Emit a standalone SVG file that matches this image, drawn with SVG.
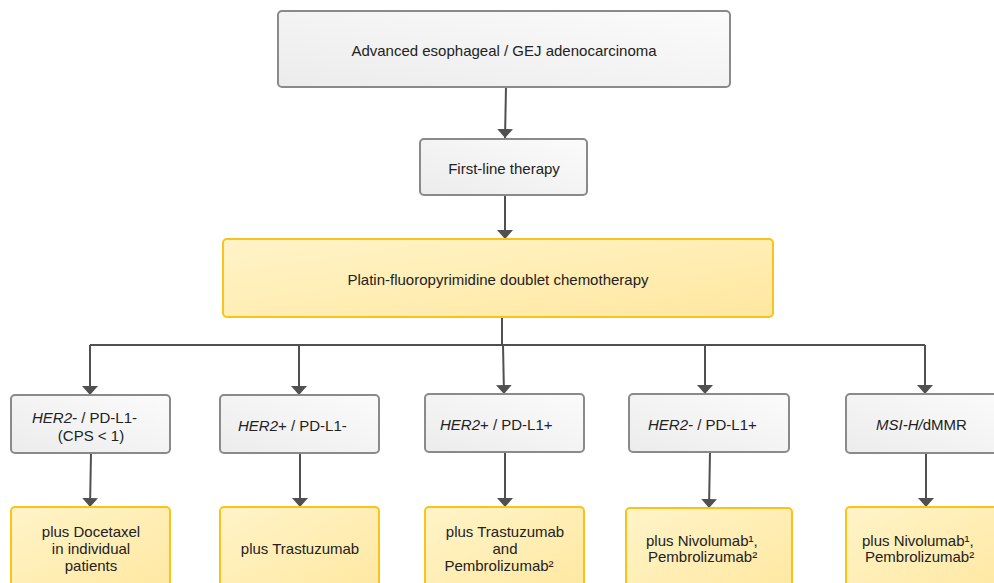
<svg xmlns="http://www.w3.org/2000/svg" width="994" height="583" viewBox="0 0 994 583">
<defs>
<linearGradient id="gG" x1="0" y1="1" x2="1" y2="0">
<stop offset="0" stop-color="#ececec"/><stop offset="1" stop-color="#fbfbfb"/>
</linearGradient>
<linearGradient id="gY" x1="0" y1="0" x2="1" y2="1">
<stop offset="0" stop-color="#fff4c8"/><stop offset="1" stop-color="#ffe7a0"/>
</linearGradient>
<marker id="ah" viewBox="0 0 9 16" refX="9" refY="8" markerWidth="9" markerHeight="16" markerUnits="userSpaceOnUse" orient="auto">
<path d="M0,0 L9,8 L0,16 Z" fill="#505050"/>
</marker>
</defs>
<style>
.g{fill:url(#gG);stroke:#8a8a8a;stroke-width:2}
.y{fill:url(#gY);stroke:#f8c31a;stroke-width:2}
.t{font-family:"Liberation Sans",Arial,sans-serif;font-size:15px;fill:#222}
.c{fill:none;stroke:#505050;stroke-width:2}
.ca{fill:none;stroke:#505050;stroke-width:2;marker-end:url(#ah)}
</style>
<rect width="994" height="583" fill="#ffffff"/>
<g id="connectors">
<path class="ca" d="M506,87 L505,138"/>
<path class="ca" d="M505,195 L505,239"/>
<path class="c" d="M502,317 L502,345"/>
<path class="c" d="M90,345 L925,345"/>
<path class="ca" d="M90,345 L90,395"/>
<path class="ca" d="M299,345 L299,395"/>
<path class="ca" d="M503,345 L504,394"/>
<path class="ca" d="M705,345 L705,394"/>
<path class="ca" d="M925,345 L925,394"/>
<path class="ca" d="M91,453 L90,507"/>
<path class="ca" d="M300,453 L300,507"/>
<path class="ca" d="M505,452 L505,507"/>
<path class="ca" d="M710,452 L709,508"/>
<path class="ca" d="M926,453 L926,507"/>
</g>
<g id="n_top"><rect class="g" x="278" y="11" width="452" height="76" rx="4"/>
<text class="t" x="504" y="56" text-anchor="middle">Advanced esophageal / GEJ adenocarcinoma</text></g>
<g id="n_first"><rect class="g" x="420" y="139" width="167" height="56" rx="4"/>
<text class="t" x="504" y="174" text-anchor="middle">First-line therapy</text></g>
<g id="n_chemo"><rect class="y" x="223" y="239" width="550" height="78" rx="4"/>
<text class="t" x="498" y="285" text-anchor="middle">Platin-fluoropyrimidine doublet chemotherapy</text></g>
<g id="n_a1"><rect class="g" x="11" y="395" width="159" height="58" rx="4"/>
<text class="t" x="32" y="423"><tspan font-style="italic">HER2-</tspan> / PD-L1-</text>
<text class="t" x="91" y="441" text-anchor="middle">(CPS &lt; 1)</text></g>
<g id="n_a2"><rect class="g" x="220" y="395" width="159" height="58" rx="4"/>
<text class="t" x="238" y="431"><tspan font-style="italic">HER2</tspan>+ / PD-L1-</text></g>
<g id="n_a3"><rect class="g" x="425" y="394" width="159" height="58" rx="4"/>
<text class="t" x="440" y="430"><tspan font-style="italic">HER2</tspan>+ / PD-L1+</text></g>
<g id="n_a4"><rect class="g" x="629" y="394" width="160" height="58" rx="4"/>
<text class="t" x="648" y="430"><tspan font-style="italic">HER2-</tspan> / PD-L1+</text></g>
<g id="n_a5"><rect class="g" x="846" y="394" width="160" height="59" rx="4"/>
<text class="t" x="876" y="430"><tspan font-style="italic">MSI-H/</tspan>dMMR</text></g>
<g id="n_b1"><rect class="y" x="11" y="507" width="159" height="90" rx="4"/>
<text class="t" text-anchor="middle"><tspan x="91" y="537">plus Docetaxel</tspan><tspan x="91" y="554">in individual</tspan><tspan x="91" y="571">patients</tspan></text></g>
<g id="n_b2"><rect class="y" x="220" y="507" width="159" height="90" rx="4"/>
<text class="t" x="300" y="554" text-anchor="middle">plus Trastuzumab</text></g>
<g id="n_b3"><rect class="y" x="425" y="507" width="159" height="90" rx="4"/>
<text class="t" text-anchor="middle"><tspan x="505" y="537">plus Trastuzumab</tspan><tspan x="505" y="554">and</tspan><tspan x="499" y="571">Pembrolizumab²</tspan></text></g>
<g id="n_b4"><rect class="y" x="626" y="508" width="166" height="90" rx="4"/>
<text class="t"><tspan x="646" y="546">plus Nivolumab¹,</tspan><tspan x="648" y="562">Pembrolizumab²</tspan></text></g>
<g id="n_b5"><rect class="y" x="846" y="507" width="160" height="90" rx="4"/>
<text class="t"><tspan x="862" y="546">plus Nivolumab¹,</tspan><tspan x="865" y="562">Pembrolizumab²</tspan></text></g>
</svg>
